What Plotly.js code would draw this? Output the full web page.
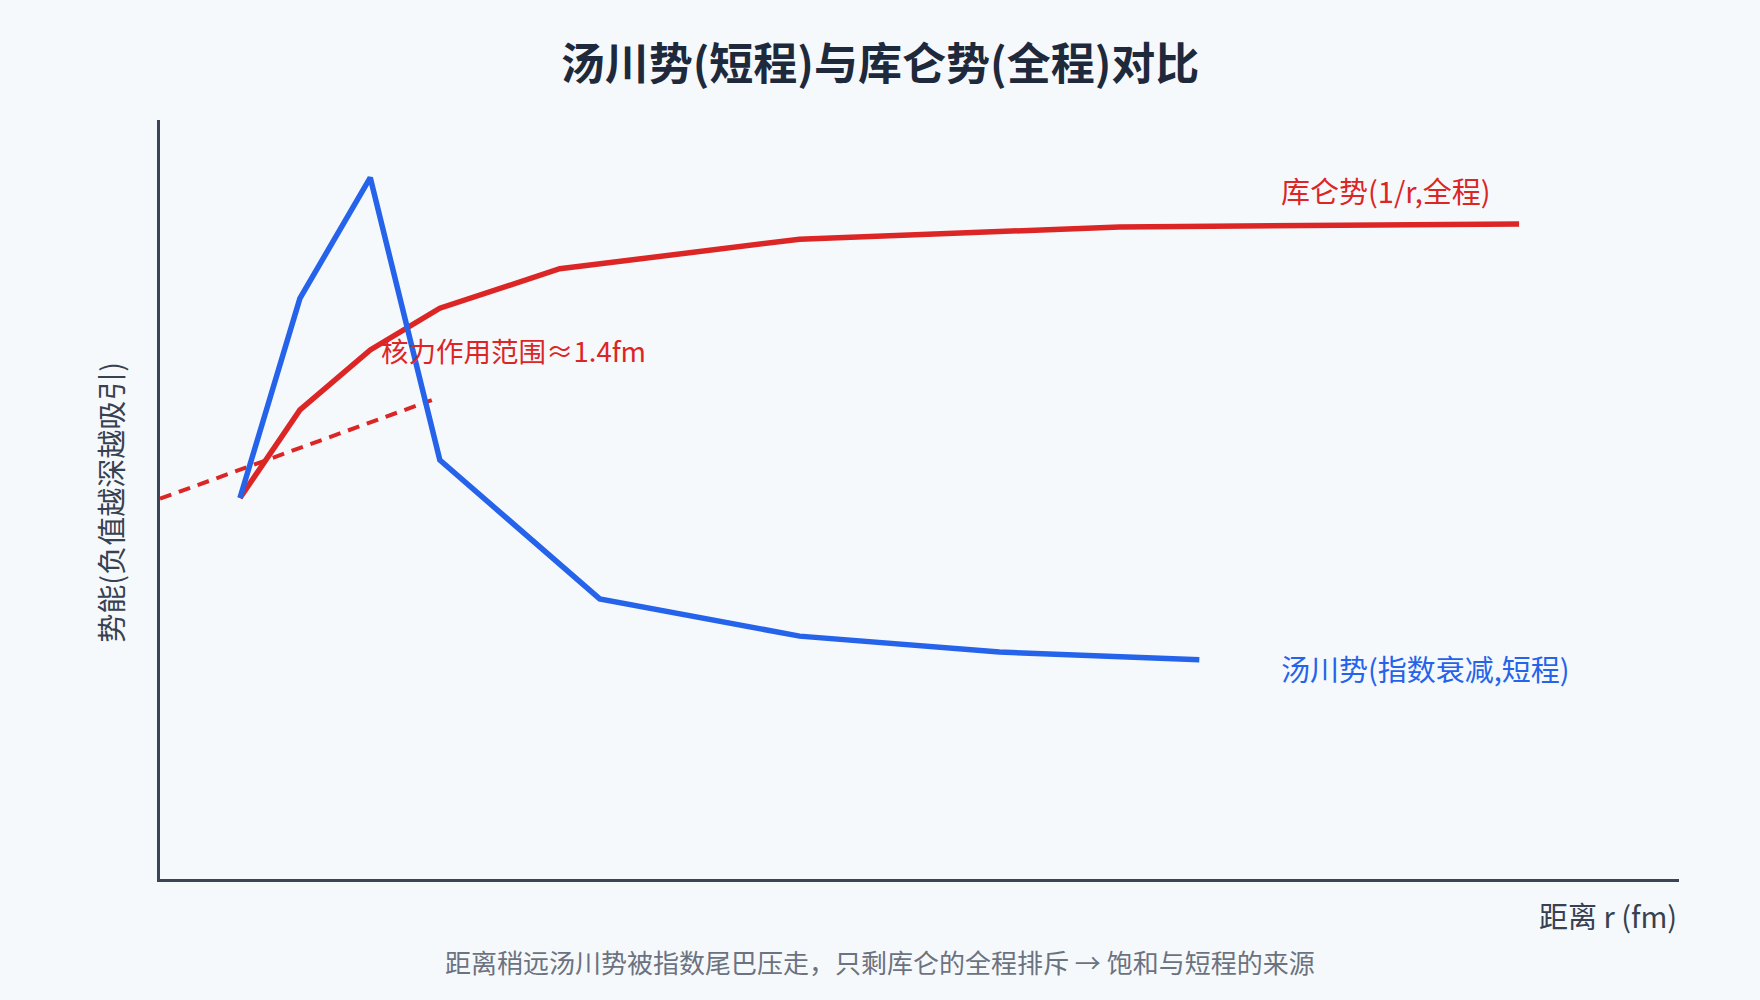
<!DOCTYPE html>
<html>
<head>
<meta charset="utf-8">
<script src="https://cdn.plot.ly/plotly-3.0.1.min.js"></script>
<style>
  html, body { margin: 0; padding: 0; background: #f6f9fc; }
  #chart { width: 1760px; height: 1000px; }
</style>
</head>
<body>
<div id="chart"></div>
<script>
// distance r (chart units) and potential (higher = deeper attraction)
const yukawaR = [1, 1.75, 2.63, 3.5, 5.5, 8, 10.5, 13];
const yukawaV = [50.2, 76.5, 92.4, 55.2, 36.9, 32.0, 29.9, 28.9];

const coulombR = [1, 1.75, 2.63, 3.5, 5, 8, 12, 17];
const coulombV = [50.2, 61.8, 69.7, 75.2, 80.4, 84.3, 85.9, 86.3];

const rangeR = [0, 3.4];
const rangeV = [50.1, 63.1];

const red = '#dc2626', blue = '#2563eb', ink = '#374151';
const font = '"Noto Sans CJK SC", "Noto Sans", sans-serif';

let data = [
	{
		x: rangeR,
		y: rangeV,
		mode: 'lines',
		line: { color: red, width: 4, dash: '12px,8px' },
		hoverinfo: 'skip'
	},
	{
		x: coulombR,
		y: coulombV,
		mode: 'lines',
		name: '库仑势',
		line: { color: red, width: 5.5 }
	},
	{
		x: yukawaR,
		y: yukawaV,
		mode: 'lines',
		name: '汤川势',
		line: { color: blue, width: 5.5 }
	}
];

let layout = {
	width: 1760,
	height: 1000,
	paper_bgcolor: '#f6f9fc',
	plot_bgcolor: '#f6f9fc',
	showlegend: false,
	margin: { l: 160, r: 81, t: 120, b: 121 },
	font: { family: font, color: ink },
	title: {
		text: '<b>汤川势(短程)与库仑势(全程)对比</b>',
		font: { size: 44, color: '#1e293b', family: font },
		x: 0.5, xanchor: 'center',
		y: 0.935, yanchor: 'middle'
	},
	xaxis: {
		range: [0, 19],
		showgrid: false,
		zeroline: false,
		showticklabels: false,
		ticks: '',
		showline: true,
		linecolor: '#3b4556',
		linewidth: 3
	},
	yaxis: {
		range: [0, 100],
		showgrid: false,
		zeroline: false,
		showticklabels: false,
		ticks: '',
		showline: true,
		linecolor: '#3b4556',
		linewidth: 3
	},
	annotations: [
		{
			x: 14, y: 90.8, xref: 'x', yref: 'y',
			text: '库仑势(1/r,全程)', showarrow: false,
			xanchor: 'left', yanchor: 'middle',
			font: { size: 29, color: red }
		},
		{
			x: 14, y: 27.8, xref: 'x', yref: 'y',
			text: '汤川势(指数衰减,短程)', showarrow: false,
			xanchor: 'left', yanchor: 'middle',
			font: { size: 29, color: blue }
		},
		{
			x: 2.74, y: 69.7, xref: 'x', yref: 'y',
			text: '核力作用范围≈1.4fm', showarrow: false,
			xanchor: 'left', yanchor: 'middle',
			font: { size: 27.5, color: red }
		},
		{
			x: 1, y: -0.047, xref: 'paper', yref: 'paper',
			text: '距离 r (fm)', showarrow: false,
			xanchor: 'right', yanchor: 'middle',
			font: { size: 29, color: ink }
		},
		{
			x: -0.033, y: 0.497, xref: 'paper', yref: 'paper',
			text: '势能(负值越深越吸引)', showarrow: false, textangle: -90,
			xanchor: 'center', yanchor: 'middle',
			font: { size: 29, color: ink }
		},
		{
			x: 0.474, y: -0.109, xref: 'paper', yref: 'paper',
			text: '距离稍远汤川势被指数尾巴压走，只剩库仑的全程排斥 → 饱和与短程的来源', showarrow: false,
			xanchor: 'center', yanchor: 'middle',
			font: { size: 26, color: '#6b7280' }
		}
	]
};

Plotly.newPlot('chart', data, layout, { displayModeBar: false, staticPlot: true });
</script>
</body>
</html>
